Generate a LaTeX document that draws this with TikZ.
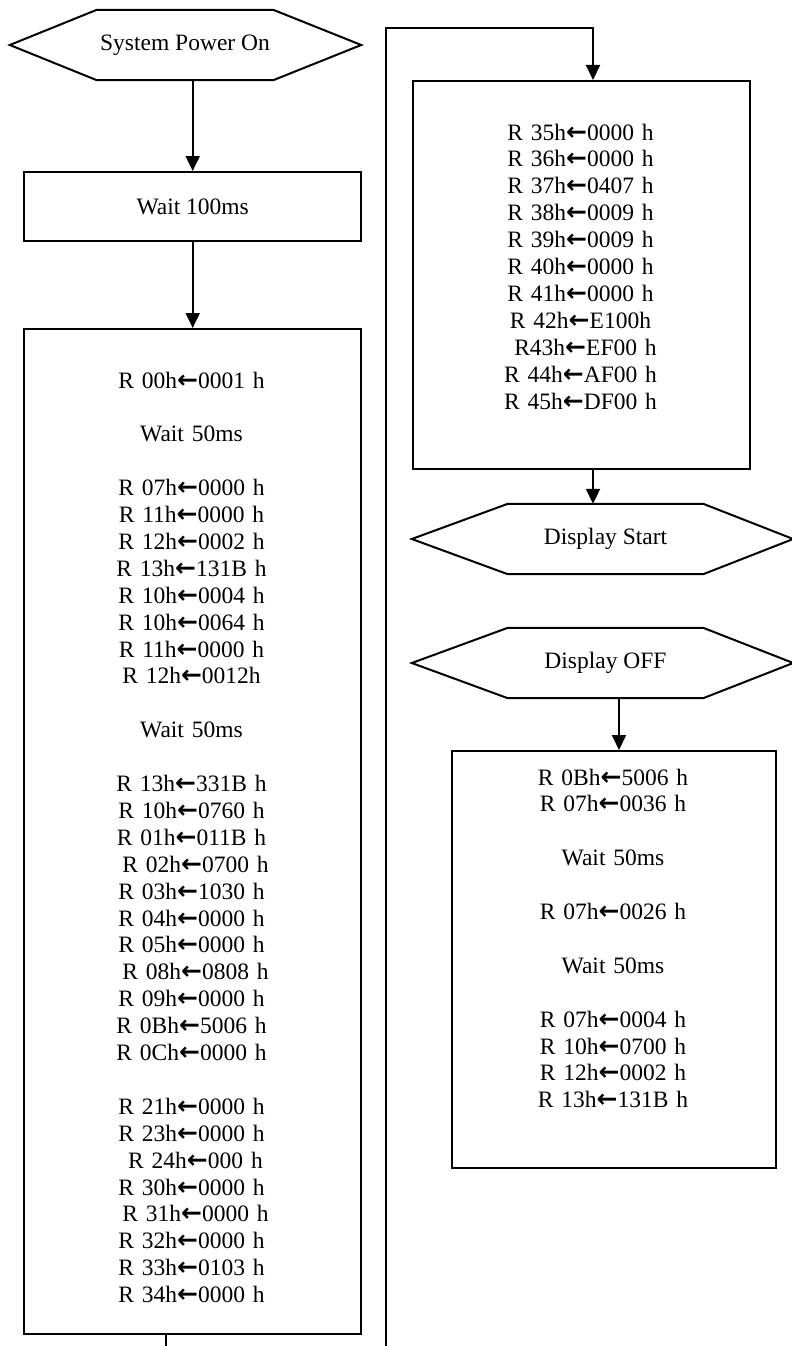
\documentclass[tikz,border=0pt]{standalone}
\usepackage{fontspec}
\setmainfont{Liberation Serif}
\newfontfamily\arrowfont{DejaVu Sans Bold}
\usetikzlibrary{arrows.meta,calc}
\newcommand{\regarr}{{\arrowfont\fontsize{25}{26.9}\selectfont ←}}
\tikzset{
  txt/.style={font=\fontsize{23.5}{26.9}\selectfont, inner sep=0pt},
  boxnode/.style={draw, line width=2.4pt, inner sep=0pt, anchor=north west},
  blocktext/.style={txt, align=center, anchor=base},
  hexnode/.style={txt, minimum height=70pt, inner sep=0pt},
  hexline/.style={line width=2pt, line join=miter},
  conn/.style={line width=2pt},
  arr/.style={line width=2pt, -{Triangle[length=15pt,width=14pt]}},
}
\begin{document}
\begin{tikzpicture}[x=1pt,y=-1pt]
\useasboundingbox (0,0) rectangle (792,1346);
% --- left column ---
\node[hexnode, minimum width=176pt] (hx1) at (185,45) {System Power On};
\draw[hexline] (hx1.north west) -- (hx1.north east) -- ([xshift=88pt]hx1.east) -- (hx1.south east) -- (hx1.south west) -- ([xshift=-87pt]hx1.west) -- cycle;

\node[boxnode, minimum width=337pt, minimum height=69pt] (w1) at (23,171) {};
\node[txt] (w1t) at (w1.center) {Wait 100ms};

\node[boxnode, minimum width=337pt, minimum height=1005pt] (big) at (23,328) {};
\node[blocktext, text width=337pt] (bigt) at (191.5,388) {%
R 00h\regarr0001 h\\[26.9pt]
Wait 50ms\\[26.9pt]
R 07h\regarr0000 h\\
R 11h\regarr0000 h\\
R 12h\regarr0002 h\\
R 13h\regarr131B h\\
R 10h\regarr0004 h\\
R 10h\regarr0064 h\\
R 11h\regarr0000 h\\
R 12h\regarr0012h\\[26.9pt]
Wait 50ms\\[26.9pt]
R 13h\regarr331B h\\
R 10h\regarr0760 h\\
R 01h\regarr011B h\\
\hspace*{8pt}R 02h\regarr0700 h\\
R 03h\regarr1030 h\\
R 04h\regarr0000 h\\
R 05h\regarr0000 h\\
\hspace*{8pt}R 08h\regarr0808 h\\
R 09h\regarr0000 h\\
R 0Bh\regarr5006 h\\
R 0Ch\regarr0000 h\\[26.9pt]
R 21h\regarr0000 h\\
R 23h\regarr0000 h\\
\hspace*{8pt}R 24h\regarr000 h\\
R 30h\regarr0000 h\\
\hspace*{8pt}R 31h\regarr0000 h\\
R 32h\regarr0000 h\\
R 33h\regarr0103 h\\
R 34h\regarr0000 h};

\draw[arr] (w1.north |- hx1.south) -- (w1.north);
\draw[arr] (w1.south) -- (big.north);

\coordinate (s1) at (166,1346);
\draw[conn] (big.south -| s1) -- (s1);

% --- right column ---
\node[boxnode, minimum width=337pt, minimum height=388pt] (r1) at (412,80) {};
\node[blocktext, text width=337pt] (r1t) at (580.5,140) {%
R 35h\regarr0000 h\\
R 36h\regarr0000 h\\
R 37h\regarr0407 h\\
R 38h\regarr0009 h\\
R 39h\regarr0009 h\\
R 40h\regarr0000 h\\
R 41h\regarr0000 h\\
R 42h\regarr E100h\\
\hspace*{10pt}R43h\regarr EF00 h\\
R 44h\regarr AF00 h\\
R 45h\regarr DF00 h};

\coordinate (a3) at (593,0);
\coordinate (e1) at (386,1346);
\coordinate (e2) at (386,28);
\draw[arr] (e1) -- (e2) -| (a3 |- r1.north);

\node[hexnode, minimum width=195pt] (hx2) at (605.5,539) {Display Start};
\draw[hexline] (hx2.north west) -- (hx2.north east) -- ([xshift=90pt]hx2.east) -- (hx2.south east) -- (hx2.south west) -- ([xshift=-96pt]hx2.west) -- cycle;
\draw[arr] (a3 |- r1.south) -- (a3 |- hx2.north);

\node[hexnode, minimum width=195pt] (hx3) at (605.5,663) {Display OFF};
\draw[hexline] (hx3.north west) -- (hx3.north east) -- ([xshift=90pt]hx3.east) -- (hx3.south east) -- (hx3.south west) -- ([xshift=-96pt]hx3.west) -- cycle;

\node[boxnode, minimum width=324pt, minimum height=417pt] (b3) at (451,750) {};
\node[blocktext, text width=324pt] (b3t) at (613,785) {%
R 0Bh\regarr5006 h\\
R 07h\regarr0036 h\\[26.9pt]
Wait 50ms\\[26.9pt]
R 07h\regarr0026 h\\[26.9pt]
Wait 50ms\\[26.9pt]
R 07h\regarr0004 h\\
R 10h\regarr0700 h\\
R 12h\regarr0002 h\\
R 13h\regarr131B h};

\coordinate (a4) at (619,0);
\draw[arr] (a4 |- hx3.south) -- (a4 |- b3.north);
\end{tikzpicture}
\end{document}
